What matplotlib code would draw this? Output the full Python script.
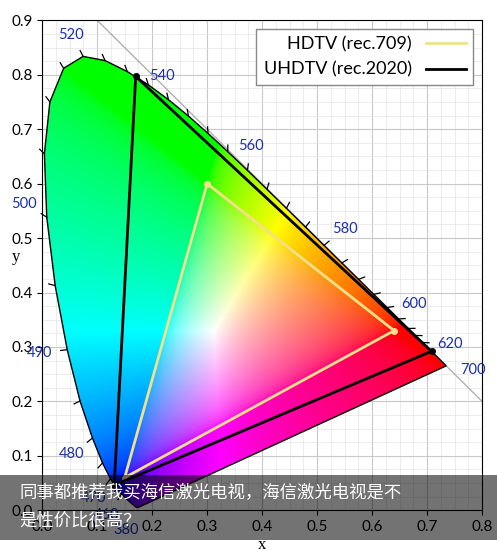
import numpy as np
import matplotlib
matplotlib.use("Agg")
import matplotlib.pyplot as plt
from matplotlib.path import Path
from matplotlib.patches import PathPatch, Rectangle
from matplotlib.lines import Line2D

wl = [380,420,440,450,460,465,470,475,480,485,490,495,500,505,510,515,520,525,530,535,540,545,550,555,560,565,570,575,580,585,590,595,600,605,610,620,630,640,650,680,700]
lx = [0.1741,0.1714,0.1644,0.1566,0.1440,0.1355,0.1241,0.1096,0.0913,0.0687,0.0454,0.0235,0.0082,0.0039,0.0139,0.0389,0.0743,0.1142,0.1547,0.1929,0.2296,0.2658,0.3016,0.3373,0.3731,0.4087,0.4441,0.4788,0.5125,0.5448,0.5752,0.6029,0.6270,0.6482,0.6658,0.6915,0.7079,0.7190,0.7260,0.7334,0.7347]
ly = [0.0050,0.0051,0.0109,0.0177,0.0297,0.0399,0.0578,0.0868,0.1327,0.2007,0.2950,0.4127,0.5384,0.6548,0.7502,0.8120,0.8338,0.8262,0.8059,0.7816,0.7543,0.7243,0.6923,0.6589,0.6245,0.5896,0.5547,0.5202,0.4866,0.4544,0.4242,0.3965,0.3725,0.3514,0.3340,0.3083,0.2920,0.2809,0.2740,0.2666,0.2653]
label_wl = [380,460,470,480,490,500,520,540,560,580,600,620,700]
rec709_x = [0.64,0.30,0.15]; rec709_y = [0.33,0.60,0.06]
rec2020_x = [0.708,0.170,0.131]; rec2020_y = [0.292,0.797,0.046]

fig = plt.figure(figsize=(4.97,5.51), dpi=100)
ax = fig.add_axes([0.085,0.074,0.885,0.889])
ax.set_xlim(0,0.8); ax.set_ylim(0,0.9)
ax.set_xticks(np.arange(0,0.81,0.1)); ax.set_yticks(np.arange(0,0.91,0.1))
ax.set_xticks(np.arange(0,0.81,0.025), minor=True); ax.set_yticks(np.arange(0,0.91,0.025), minor=True)
ax.tick_params(which='minor', length=0)
ax.grid(True, which='major', color='#c8c8c8', lw=0.8)
ax.grid(True, which='minor', color='#e4e4e4', lw=0.5)
ax.set_axisbelow(True)
for lab in ax.get_xticklabels()+ax.get_yticklabels():
    lab.set_fontfamily('Lato'); lab.set_fontsize(11)
ax.set_xlabel('x', fontfamily='Liberation Serif', fontsize=12, labelpad=2)
ax.set_ylabel('y', fontfamily='Liberation Serif', fontsize=12, rotation=0, labelpad=2)
ax.yaxis.set_label_coords(-0.06, 0.5)
ax.plot([0,0.8],[1,0.2], color='#aaaaaa', lw=0.9)

N=400
gx, gy = np.meshgrid(np.linspace(0,0.8,N), np.linspace(0,0.9,N))
gyc = np.maximum(gy,1e-4)
X = gx/gyc; Y = np.ones_like(gx); Z = (1-gx-gy)/gyc
M = np.array([[3.2406,-1.5372,-0.4986],[-0.9689,1.8758,0.0415],[0.0557,-0.2040,1.0570]])
rgb = np.stack([X,Y,Z],-1) @ M.T
rgb = np.clip(rgb,0,None)
rgb = rgb/np.maximum(rgb.max(-1,keepdims=True),1e-6)
rgb = np.where(rgb<=0.0031308, 12.92*rgb, 1.055*rgb**(1/2.4)-0.055)
rgb = np.clip(rgb,0,1)
verts = list(zip(lx,ly))+[(lx[0],ly[0])]
path = Path(verts, closed=True)
im = ax.imshow(rgb, origin='lower', extent=[0,0.8,0,0.9], aspect='auto', zorder=1)
patch = PathPatch(path, facecolor='none', edgecolor='black', lw=1, zorder=2)
ax.add_patch(patch); im.set_clip_path(patch)

cx, cy = 0.33, 0.33
wla = np.array(wl); lxa=np.array(lx); lya=np.array(ly)
for w in range(460, 625, 5):
    px = np.interp(w, wla, lxa); py = np.interp(w, wla, lya)
    d = np.array([px-cx, py-cy]); d/=np.hypot(*d)
    ax.plot([px,px+d[0]*0.012],[py,py+d[1]*0.012], color='black', lw=0.9, zorder=3, clip_on=False)
for w in label_wl:
    px = np.interp(w, wla, lxa); py = np.interp(w, wla, lya)
    d = np.array([px-cx, py-cy]); d/=np.hypot(*d)
    ax.text(px+d[0]*0.05, py+d[1]*0.045, str(w), color='#1a2fb0', fontsize=10.5,
            fontfamily='Lato', ha='center', va='center', zorder=4, clip_on=False)

ax.fill(rec709_x, rec709_y, fill=False, edgecolor='#f2e08a', lw=2, zorder=5)
ax.plot(rec709_x, rec709_y, 'o', color='#f2e08a', ms=4, zorder=5)
ax.fill(rec2020_x, rec2020_y, fill=False, edgecolor='black', lw=2, zorder=6)
ax.plot(rec2020_x, rec2020_y, 'o', color='black', ms=4, zorder=6)
h = [Line2D([],[],color='#f2e08a',lw=2), Line2D([],[],color='black',lw=2)]
leg = ax.legend(h, ['HDTV (rec.709)','UHDTV (rec.2020)'], loc='upper right', prop={'family':'Lato','size':13},
                framealpha=1, edgecolor='#888888', fancybox=False, handlelength=2.2, markerfirst=False)
leg.set_zorder(10)

fig.patches.append(Rectangle((0,0.02),1,0.118, transform=fig.transFigure, facecolor='black', alpha=0.55, zorder=20))
fig.text(0.04,0.107,'同事都推荐我买海信激光电视，海信激光电视是不', color='white', fontsize=12.5,
         fontfamily='Noto Sans CJK SC', va='center', zorder=21)
fig.text(0.04,0.055,'是性价比很高？', color='white', fontsize=12.5,
         fontfamily='Noto Sans CJK SC', va='center', zorder=21)
fig.savefig('out.png', dpi=100)
